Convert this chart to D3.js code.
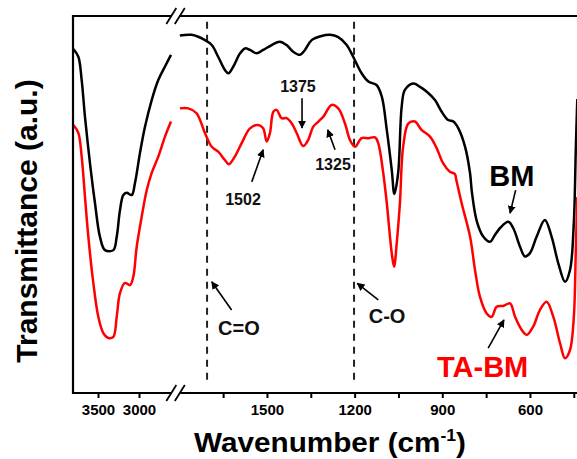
<!DOCTYPE html>
<html>
<head>
<meta charset="utf-8">
<script src="https://cdn.jsdelivr.net/npm/d3@7"></script>
<style>
  html, body { margin: 0; padding: 0; background: #fff; }
  svg text { font-family: "Liberation Sans", Arial, sans-serif; font-weight: bold; }
</style>
</head>
<body>
<div id="chart"></div>
<script>
// wavenumber (cm-1), transmittance (a.u.)
const bmHigh = [
  [3800, 91.2], [3740, 89.2], [3699, 83.0], [3659, 73.3], [3598, 61.0], [3537, 50.4],
  [3476, 41.4], [3415, 37.9], [3313, 37.9], [3272, 41.4], [3232, 48.5], [3191, 52.5],
  [3150, 53.1], [3089, 52.5], [3049, 55.7], [2988, 63.7], [2927, 70.6], [2845, 77.7],
  [2765, 83.0], [2683, 86.6], [2610, 89.7]
];
const taHigh = [
  [3800, 71.1], [3740, 69.0], [3699, 62.7], [3659, 52.1], [3618, 41.5], [3557, 29.2],
  [3496, 20.2], [3435, 15.9], [3374, 14.6], [3313, 14.9], [3272, 20.2], [3232, 26.5],
  [3171, 29.2], [3110, 28.6], [3070, 30.8], [3028, 38.8], [2967, 46.8], [2906, 53.8],
  [2845, 58.4], [2765, 62.7], [2683, 68.0], [2610, 72.0]
];
const bmLow = [
  [1798, 94.8], [1758, 95.0], [1712, 93.6], [1689, 92.3], [1667, 89.2], [1644, 85.7],
  [1632, 84.8], [1615, 86.6], [1592, 90.1], [1575, 91.4], [1558, 91.0], [1535, 90.1],
  [1513, 91.0], [1484, 92.3], [1456, 93.2], [1433, 92.3], [1410, 90.5], [1387, 89.7],
  [1370, 91.0], [1347, 93.6], [1313, 94.7], [1284, 95.0], [1256, 94.4], [1227, 92.3],
  [1205, 89.2], [1176, 84.8], [1153, 82.6], [1125, 81.7], [1107, 78.6], [1090, 69.8],
  [1073, 59.2], [1064, 52.8], [1051, 58.4], [1039, 75.9], [1028, 80.4], [999, 82.1],
  [976, 81.2], [953, 79.9], [925, 77.7], [902, 74.6], [880, 72.4], [862, 72.0],
  [845, 70.2], [822, 65.3], [805, 58.3], [799, 53.5], [782, 45.6], [760, 41.5],
  [737, 40.1], [720, 41.9], [703, 43.7], [674, 45.4], [657, 43.7], [634, 38.8],
  [617, 36.2], [600, 37.1], [577, 41.5], [549, 45.9], [526, 41.5], [503, 34.4],
  [480, 29.5], [463, 32.6], [450, 45.0], [443, 65.0], [438, 78.0]
];
const taLow = [
  [1798, 75.5], [1769, 75.5], [1741, 74.2], [1712, 68.9], [1689, 65.3], [1667, 64.0],
  [1644, 61.8], [1630, 60.7], [1610, 62.7], [1587, 66.2], [1558, 70.2], [1530, 71.1],
  [1513, 70.2], [1501, 66.7], [1490, 68.9], [1478, 74.6], [1467, 75.1], [1450, 72.9],
  [1433, 72.9], [1415, 71.5], [1398, 68.9], [1376, 65.5], [1359, 67.1], [1342, 70.6],
  [1324, 72.0], [1307, 73.3], [1279, 76.4], [1256, 75.5], [1233, 71.5], [1216, 67.1],
  [1199, 65.3], [1176, 67.6], [1153, 67.6], [1130, 67.8], [1119, 66.2], [1102, 58.3],
  [1090, 50.4], [1073, 37.1], [1065, 33.5], [1056, 39.7], [1045, 50.4], [1034, 65.3],
  [1016, 71.5], [994, 72.0], [971, 69.8], [942, 68.0], [919, 64.9], [897, 60.9],
  [874, 58.7], [857, 58.1], [852, 56.5], [834, 50.4], [805, 41.5], [788, 32.6],
  [771, 25.5], [748, 21.1], [731, 20.2], [714, 22.9], [691, 23.1], [668, 23.8],
  [651, 20.2], [628, 16.7], [611, 15.4], [589, 17.6], [566, 22.0], [543, 24.2],
  [520, 20.2], [497, 13.2], [480, 9.2], [463, 11.4], [450, 20.0], [443, 38.0], [438, 52.0]
];

const ticksHigh = [3500, 3000];
const ticksLow = [1500, 1200, 900, 600];
const minorLow = [1650, 1350, 1050, 750, 450];
const bondLines = [1705, 1202];

// label text, text position, arrow start, arrow end (data units)
const notes = [
  { text: "1375", at: [1394, 81.3], size: 16, from: [1380, 78.2], to: [1380, 70.3] },
  { text: "1325", at: [1274, 60.5], size: 16, from: [1267, 64.5], to: [1292, 69.8] },
  { text: "1502", at: [1582, 51.2], size: 16, from: [1552, 56.0], to: [1513, 64.5] },
  { text: "C=O", at: [1596, 17.2], size: 20, from: [1621, 22.0], to: [1689, 29.5] },
  { text: "C-O", at: [1089, 20.5], size: 20, from: [1119, 24.7], to: [1191, 29.1] }
];
const seriesLabels = [
  { text: "BM", color: "#000", at: [662, 57.6], from: [649, 53.8], to: [668, 47.7] },
  { text: "TA-BM", color: "#ff0000", at: [762, 7.0], from: [743, 11.9], to: [689, 19.4] }
];

const W = 577, H = 459;
const margin = { left: 73, top: 16, bottom: 393 };

const svg = d3.select("#chart").append("svg")
  .attr("width", W).attr("height", H)
  .attr("viewBox", `0 0 ${W} ${H}`);

svg.append("defs").append("marker")
  .attr("id", "head")
  .attr("viewBox", "0 0 10 10")
  .attr("refX", 9).attr("refY", 5)
  .attr("markerWidth", 5).attr("markerHeight", 5)
  .attr("orient", "auto")
  .append("path").attr("d", "M0,0L10,5L0,10z").attr("fill", "#000");

const xHigh = d3.scaleLinear().domain([3800, 2600]).range([73.4, 171.8]);
const xLow = d3.scaleLinear().domain([1800, 400]).range([179.3, 588.4]);
const y = d3.scaleLinear().domain([0, 100]).range([margin.bottom, margin.top]);

const line = (sx) => d3.line()
  .x((d) => sx(d[0]))
  .y((d) => y(d[1]))
  .curve(d3.curveCatmullRom.alpha(0.5));

const plot = svg.append("g");

// dashed reference lines
plot.selectAll(".bond")
  .data(bondLines)
  .join("line")
  .attr("x1", (d) => xLow(d)).attr("x2", (d) => xLow(d))
  .attr("y1", y(98.5)).attr("y2", y(3))
  .attr("stroke", "#222")
  .attr("stroke-width", 2)
  .attr("stroke-dasharray", "7,6");

const curves = [
  [bmHigh, xHigh, "#000"], [taHigh, xHigh, "#ff0000"],
  [bmLow, xLow, "#000"], [taLow, xLow, "#ff0000"]
];
curves.forEach(([data, sx, color]) => {
  plot.append("path")
    .attr("d", line(sx)(data))
    .attr("fill", "none")
    .attr("stroke", color)
    .attr("stroke-width", 2.5)
    .attr("stroke-linejoin", "round");
});

// frame
const frame = svg.append("g").attr("stroke", "#000").attr("stroke-width", 2.2);
const gapL = xHigh(2600) - 0.5, gapR = xLow(1800) + 0.5;
[margin.top, margin.bottom].forEach((yy) => {
  frame.append("line").attr("x1", margin.left).attr("x2", gapL).attr("y1", yy).attr("y2", yy);
  frame.append("line").attr("x1", gapR).attr("x2", W + 10).attr("y1", yy).attr("y2", yy);
  [gapL, gapR].forEach((cx) => {
    frame.append("line")
      .attr("x1", cx - 5).attr("y1", yy + 8)
      .attr("x2", cx + 5).attr("y2", yy - 8)
      .attr("stroke-width", 1.8);
  });
});
frame.append("line")
  .attr("x1", margin.left).attr("x2", margin.left)
  .attr("y1", margin.top - 1.1).attr("y2", margin.bottom + 1.1);

// axes
const fmt = d3.format("d");
const axHigh = svg.append("g")
  .attr("transform", `translate(0,${margin.bottom})`)
  .call(d3.axisBottom(xHigh).tickValues(ticksHigh).tickSize(5).tickPadding(6).tickFormat(fmt));
const axLow = svg.append("g")
  .attr("transform", `translate(0,${margin.bottom})`)
  .call(d3.axisBottom(xLow).tickValues(ticksLow).tickSize(5).tickPadding(6).tickFormat(fmt));
const axMinor = svg.append("g")
  .attr("transform", `translate(0,${margin.bottom})`)
  .call(d3.axisBottom(xLow).tickValues(minorLow).tickSize(5).tickFormat(""));

[axHigh, axLow, axMinor].forEach((g) => {
  g.select(".domain").remove();
  g.selectAll(".tick line").attr("stroke", "#000").attr("stroke-width", 2);
  g.selectAll(".tick text")
    .attr("fill", "#000")
    .style("font-size", "15px")
    .style("font-family", "'Liberation Sans', Arial, sans-serif")
    .style("font-weight", "bold");
});

// reference annotations
notes.forEach((n) => {
  svg.append("text")
    .attr("x", xLow(n.at[0])).attr("y", y(n.at[1]))
    .attr("text-anchor", "middle")
    .attr("dominant-baseline", "central")
    .style("font-size", `${n.size}px`)
    .attr("fill", "#111")
    .text(n.text);
  svg.append("line")
    .attr("x1", xLow(n.from[0])).attr("y1", y(n.from[1]))
    .attr("x2", xLow(n.to[0])).attr("y2", y(n.to[1]))
    .attr("stroke", "#000").attr("stroke-width", 1.6)
    .attr("marker-end", "url(#head)");
});

seriesLabels.forEach((s) => {
  svg.append("text")
    .attr("x", xLow(s.at[0])).attr("y", y(s.at[1]))
    .attr("text-anchor", "middle")
    .attr("dominant-baseline", "central")
    .style("font-size", "29px")
    .attr("fill", s.color)
    .text(s.text);
  svg.append("line")
    .attr("x1", xLow(s.from[0])).attr("y1", y(s.from[1]))
    .attr("x2", xLow(s.to[0])).attr("y2", y(s.to[1]))
    .attr("stroke", "#000").attr("stroke-width", 1.6)
    .attr("marker-end", "url(#head)");
});

// axis titles
const xt = svg.append("text")
  .attr("transform", "translate(330,452) scale(1.1,1)")
  .attr("text-anchor", "middle")
  .style("font-size", "27px")
  .attr("fill", "#000");
xt.append("tspan").text("Wavenumber (cm");
xt.append("tspan").attr("dy", -11).style("font-size", "16px").text("-1");
xt.append("tspan").attr("dy", 11).text(")");

svg.append("text")
  .attr("transform", "translate(37,221) rotate(-90)")
  .attr("text-anchor", "middle")
  .style("font-size", "30px")
  .attr("fill", "#000")
  .text("Transmittance (a.u.)");
</script>
</body>
</html>
